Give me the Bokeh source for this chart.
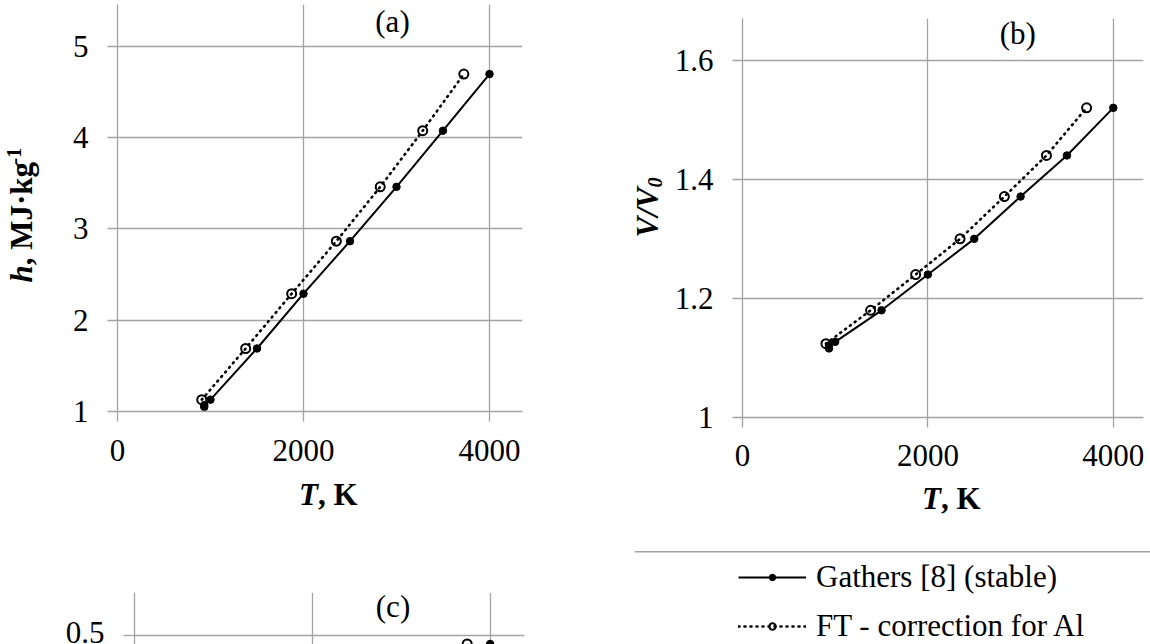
import math
from bokeh.plotting import figure
from bokeh.models import Range1d, FixedTicker, Label, Legend, LegendItem, Span
from bokeh.layouts import column, row
from bokeh.embed import file_html
from bokeh.resources import INLINE

# ---------------- data ----------------
# panel (a): enthalpy h, MJ/kg vs T, K
T_gathers_a = [933, 933, 1000, 1500, 2000, 2500, 3000, 3500, 4000]
h_gathers = [1.05, 1.07, 1.13, 1.69, 2.29, 2.865, 3.46, 4.075, 4.695]
T_ft_a = [906, 1378, 1873, 2353, 2825, 3282, 3724]
h_ft = [1.13, 1.69, 2.29, 2.865, 3.46, 4.075, 4.695]

# panel (b): V/V0 vs T, K
T_gathers_b = [933, 933, 1000, 1500, 2000, 2500, 3000, 3500, 4000]
v_gathers = [1.116, 1.121, 1.127, 1.18, 1.24, 1.30, 1.371, 1.44, 1.52]
T_ft_b = [900, 1382, 1868, 2347, 2825, 3279, 3712]
v_ft = [1.124, 1.18, 1.24, 1.30, 1.371, 1.44, 1.52]

# panel (c): only the top of the panel is visible
T_gathers_c = [4000]
c_gathers = [0.4915]
T_ft_c = [3742]
c_ft = [0.4915]

x_ticks = [0, 2000, 4000]
x_tick_labels = {0: "0", 2000: "2000", 4000: "4000"}
a_ticks = [1, 2, 3, 4, 5]
b_ticks = [1, 1.2, 1.4, 1.6]
b_tick_labels = {1: "1", 1.2: "1.2", 1.4: "1.4", 1.6: "1.6"}
c_ticks = [0.5]
c_tick_labels = {0.5: "0.5"}

series_names = ["Gathers [8] (stable)", "FT - correction for Al"]

FONT = "Liberation Serif"
FS = "31px"
GRID = "#a3a3a3"
NAN = float("nan")


def make_fig(w, h, left, right, top, bottom, xr, yr, **kw):
    p = figure(width=w, height=h, x_range=Range1d(*xr), y_range=Range1d(*yr),
               output_backend="svg", toolbar_location=None, frame_align=False,
               min_border_left=left, min_border_right=right,
               min_border_top=top, min_border_bottom=bottom, **kw)
    p.outline_line_color = None
    p.background_fill_color = "white"
    p.border_fill_color = "white"
    geom = (left, top, w - left - right, h - top - bottom, xr, yr)
    return p, geom


def text_strip(w, h):
    """A blank figure whose frame is the whole canvas; data units = pixels."""
    s = figure(width=w, height=h, x_range=Range1d(0, w), y_range=Range1d(h, 0),
               output_backend="svg", toolbar_location=None, frame_align=False,
               x_axis_location=None, y_axis_location=None, min_border=0)
    s.min_border_left = s.min_border_right = s.min_border_top = s.min_border_bottom = 0
    s.grid.visible = False
    s.outline_line_color = None
    s.background_fill_color = "white"
    s.border_fill_color = "white"
    return s


def strip_text(s, x, y, text, size=FS, style="normal", angle=0.0):
    s.add_layout(Label(x=x, y=y, text=text, text_font=FONT, text_font_size=size,
                       text_font_style=style, text_align="left",
                       text_baseline="alphabetic", angle=angle, text_color="black"))


def style_axis(ax, ticks, overrides, standoff, tick_out=10):
    ax.ticker = FixedTicker(ticks=ticks)
    ax.axis_line_color = GRID
    ax.axis_line_width = 1.3
    ax.major_tick_line_color = GRID
    ax.major_tick_line_width = 1.3
    ax.major_tick_out = tick_out
    ax.major_tick_in = 0
    ax.minor_tick_line_color = None
    ax.major_label_text_font = FONT
    ax.major_label_text_font_size = FS
    ax.major_label_text_color = "black"
    ax.major_label_standoff = standoff
    ax.major_label_overrides = overrides


def style_grid(p):
    for g in p.grid:
        g.grid_line_color = GRID
        g.grid_line_width = 1.3


def put(p, geom, cx, cy, text):
    left, top, fw, fh, (x0, x1), (y0, y1) = geom
    x = x0 + (cx - left) / fw * (x1 - x0)
    y = y1 - (cy - top) / fh * (y1 - y0)
    p.add_layout(Label(x=x, y=y, text=text, text_font=FONT, text_font_size=FS,
                       text_align="center", text_baseline="middle",
                       text_color="black"))


def draw_series(p, tg, yg, tf, yf):
    p.line(tf, yf, line_color="black", line_width=2.6, line_dash="1 5", line_cap="round")
    p.line(tg, yg, line_color="black", line_width=2)
    p.scatter(tg, yg, marker="circle", size=7.5, fill_color="black", line_color="black")
    p.scatter(tf, yf, marker="circle", size=9, fill_color=None, line_color="black", line_width=2)


UP = math.pi / 2

# ---------------- panel (a) ----------------
pa, ga = make_fig(510, 474, 67, 38, 4, 63, (0, 4355), (1, 5.457))
style_axis(pa.xaxis[0], x_ticks, x_tick_labels, 18)
style_axis(pa.yaxis[0], a_ticks, {}, 19)
style_grid(pa)
draw_series(pa, T_gathers_a, h_gathers, T_ft_a, h_ft)
put(pa, ga, 342, 21, "(a)")

ya = text_strip(50, 535)          # y-axis title of (a)
strip_text(ya, 21, 282, "h", style="bold italic", angle=UP)
strip_text(ya, 21, 264.8, ", MJ·kg", style="bold", angle=UP)
strip_text(ya, 13.5, 164.0, "-1", size="20px", style="bold", angle=UP)

xa = text_strip(510, 61)          # x-axis title of (a)
strip_text(xa, 248.5, 20, "T", style="bold italic")
strip_text(xa, 267.4, 20, ", K", style="bold")

# ---------------- panel (b) ----------------
pb, gb = make_fig(479, 479, 70, 7, 18, 62, (0, 4326), (1, 1.67))
style_axis(pb.xaxis[0], x_ticks, x_tick_labels, 17)
style_axis(pb.yaxis[0], b_ticks, b_tick_labels, 19)
style_grid(pb)
draw_series(pb, T_gathers_b, v_gathers, T_ft_b, v_ft)
put(pb, gb, 346, 33, "(b)")

yb = text_strip(111, 535)         # y-axis title of (b)
strip_text(yb, 87, 237, "V/V", style="bold italic", angle=UP)
strip_text(yb, 94, 187, "0", size="20px", style="bold italic", angle=UP)

xb = text_strip(479, 56)          # x-axis title of (b)
strip_text(xb, 250.5, 19, "T", style="bold italic")
strip_text(xb, 269.4, 19, ", K", style="bold")

# ---------------- panel (c) ----------------
pc, gc = make_fig(560, 109, 134, 36, 57, 0, (0, 4387), (0.491, 0.543))
style_axis(pc.xaxis[0], x_ticks, x_tick_labels, 12)
pc.xaxis[0].visible = False
style_axis(pc.yaxis[0], c_ticks, c_tick_labels, 19, tick_out=11)
style_grid(pc)
draw_series(pc, T_gathers_c, c_gathers, T_ft_c, c_ft)
put(pc, gc, 392.5, 71, "(c)")

# ---------------- legend ----------------
pl, gl = make_fig(590, 109, 74, 0, 16, 0, (0, 1), (0, 1),
                  x_axis_location=None, y_axis_location=None)
pl.grid.visible = False
pl.add_layout(Span(location=1, dimension="width", line_color="#4a4a4a", line_width=1.4))
lg1 = pl.line([NAN], [NAN], line_color="black", line_width=2)
lg2 = pl.scatter([NAN], [NAN], marker="circle", size=6, fill_color="black", line_color="black")
lf1 = pl.line([NAN], [NAN], line_color="black", line_width=2.6, line_dash="1 5", line_cap="round")
lf2 = pl.scatter([NAN], [NAN], marker="circle", size=7, fill_color=None, line_color="black", line_width=2)
legend = Legend(items=[LegendItem(label=series_names[0], renderers=[lg1, lg2]),
                       LegendItem(label=series_names[1], renderers=[lf1, lf2])],
                location=(104, -2), orientation="vertical",
                glyph_width=68, glyph_height=16, label_height=40, label_standoff=10,
                spacing=9, padding=0, margin=0, border_line_color=None,
                background_fill_alpha=0, label_text_font=FONT,
                label_text_font_size=FS, label_text_color="black")
pl.add_layout(legend)

top_left = row(ya, column(pa, xa))
top_right = row(yb, column(pb, xb))
layout = column(row(top_left, top_right), row(pc, pl))
open("out.html", "w").write(file_html(layout, INLINE))
